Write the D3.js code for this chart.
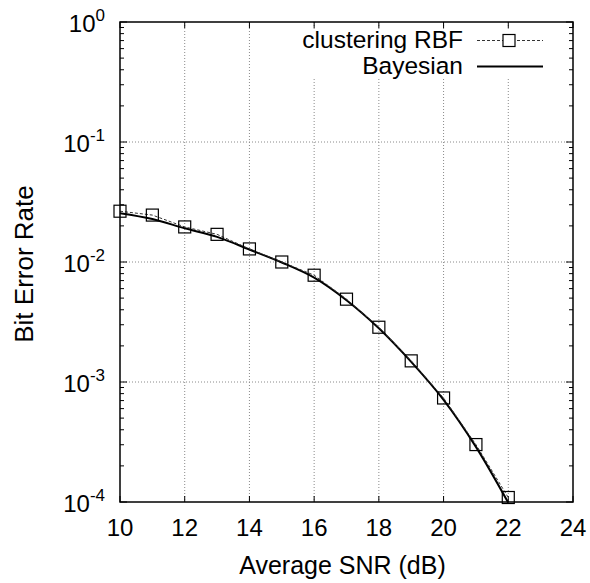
<!DOCTYPE html>
<html>
<head>
<meta charset="utf-8">
<script src="https://cdn.jsdelivr.net/npm/d3@7"></script>
<style>
  html, body { margin: 0; padding: 0; background: #fff; }
  svg text { font-family: "Liberation Sans", Arial, Helvetica, sans-serif; fill: #000; }
</style>
</head>
<body>
<svg id="chart" width="590" height="583"></svg>
<script>
// SNR values (dB)
const snr = [10, 11, 12, 13, 14, 15, 16, 17, 18, 19, 20, 21, 22];
// Bit error rate of the clustering RBF detector
const berRBF = [0.0265, 0.0246, 0.0196, 0.0170, 0.01285, 0.0100, 0.00776, 0.0049, 0.00286, 0.0015, 0.000736, 0.000301, 0.000109];
// Bit error rate of the optimal Bayesian detector
const berBayes = [0.0255, 0.0228, 0.0191, 0.0162, 0.0127, 0.0099, 0.0074, 0.0048, 0.0028, 0.00147, 0.00071, 0.000288, 0.0000985];
// Tick labels
const xTicks = [10, 12, 14, 16, 18, 20, 22, 24];
const yExponents = [0, -1, -2, -3, -4];
const legendLabels = ["clustering RBF", "Bayesian"];

const svg = d3.select("#chart");
const pLeft = 120, pRight = 573, pTop = 22, pBottom = 502;

const x = d3.scaleLinear().domain([10, 24]).range([pLeft, pRight]);
const y = d3.scaleLog().domain([1e-4, 1]).range([pBottom, pTop]);

// grid
const grid = svg.append("g").attr("stroke", "#8a8a8a").attr("stroke-width", 1)
  .attr("stroke-dasharray", "1,2").attr("fill", "none");
xTicks.filter(v => v > 10 && v < 24).forEach(v => {
  grid.append("line").attr("x1", x(v)).attr("x2", x(v)).attr("y1", pTop).attr("y2", pBottom);
});
yExponents.filter(e => e < 0 && e > -4).forEach(e => {
  grid.append("line").attr("x1", pLeft).attr("x2", pRight).attr("y1", y(Math.pow(10, e))).attr("y2", y(Math.pow(10, e)));
});

// ticks along the frame
const ticks = svg.append("g").attr("stroke", "#000").attr("stroke-width", 1);
xTicks.forEach(v => {
  ticks.append("line").attr("x1", x(v)).attr("x2", x(v)).attr("y1", pBottom).attr("y2", pBottom - 6);
  ticks.append("line").attr("x1", x(v)).attr("x2", x(v)).attr("y1", pTop).attr("y2", pTop + 6);
});
for (let e = -4; e <= 0; e++) {
  const base = Math.pow(10, e);
  ticks.append("line").attr("x1", pLeft).attr("x2", pLeft + 7).attr("y1", y(base)).attr("y2", y(base));
  ticks.append("line").attr("x1", pRight).attr("x2", pRight - 7).attr("y1", y(base)).attr("y2", y(base));
  if (e < 0) {
    for (let m = 2; m <= 9; m++) {
      const v = m * base;
      ticks.append("line").attr("x1", pLeft).attr("x2", pLeft + 4).attr("y1", y(v)).attr("y2", y(v));
      ticks.append("line").attr("x1", pRight).attr("x2", pRight - 4).attr("y1", y(v)).attr("y2", y(v));
    }
  }
}

// legend background
svg.append("rect").attr("x", 292).attr("y", pTop + 7).attr("width", pRight - 297).attr("height", 49).attr("fill", "#fff");

// Bayesian curve
const lineGen = d3.line().x(d => x(d[0])).y(d => y(d[1])).curve(d3.curveCatmullRom);
svg.append("path")
  .datum(snr.map((s, i) => [s, berBayes[i]]))
  .attr("d", lineGen).attr("fill", "none").attr("stroke", "#000").attr("stroke-width", 2);

// clustering RBF curve
const rbf = snr.map((s, i) => [s, berRBF[i]]);
svg.append("path")
  .datum(rbf)
  .attr("d", d3.line().x(d => x(d[0])).y(d => y(d[1])))
  .attr("fill", "none").attr("stroke", "#333").attr("stroke-width", 1).attr("stroke-dasharray", "3,2");
svg.append("g").selectAll("rect").data(rbf).join("rect")
  .attr("x", d => x(d[0]) - 6).attr("y", d => y(d[1]) - 6)
  .attr("width", 12).attr("height", 12)
  .attr("fill", "none").attr("stroke", "#000").attr("stroke-width", 1.2);

// frame
svg.append("rect").attr("x", pLeft).attr("y", pTop).attr("width", pRight - pLeft).attr("height", pBottom - pTop)
  .attr("fill", "none").attr("stroke", "#000").attr("stroke-width", 1.5);

// x tick labels
svg.append("g").selectAll("text").data(xTicks).join("text")
  .attr("x", d => x(d)).attr("y", pBottom + 34)
  .attr("text-anchor", "middle").attr("font-size", 24).text(d => d);

// y tick labels (powers of ten)
const yl = svg.append("g").selectAll("text").data(yExponents).join("text")
  .attr("x", 105).attr("y", d => y(Math.pow(10, d)) + 10)
  .attr("text-anchor", "end").attr("font-size", 24);
yl.append("tspan").text("10");
yl.append("tspan").attr("dy", -11).attr("font-size", 17).text(d => d);

// axis titles
svg.append("text").attr("x", (pLeft + pRight) / 2 - 4).attr("y", 574)
  .attr("text-anchor", "middle").attr("font-size", 25).text("Average SNR (dB)");
svg.append("text").attr("transform", "translate(33," + 264 + ") rotate(-90)")
  .attr("text-anchor", "middle").attr("font-size", 26).text("Bit Error Rate");

// legend
const lg = svg.append("g");
legendLabels.forEach((label, i) => {
  const ly = 40.5 + i * 26;
  lg.append("text").attr("x", 463).attr("y", ly + 7.5).attr("text-anchor", "end").attr("font-size", 24.5).text(label);
  const ln = lg.append("line").attr("x1", 477).attr("x2", 543).attr("y1", ly).attr("y2", ly).attr("stroke", "#000");
  if (i === 0) {
    ln.attr("stroke-width", 1).attr("stroke-dasharray", "3,2").attr("stroke", "#333");
    lg.append("rect").attr("x", 503).attr("y", ly - 6).attr("width", 12).attr("height", 12)
      .attr("fill", "#fff").attr("stroke", "#000").attr("stroke-width", 1.2);
  } else {
    ln.attr("stroke-width", 2);
  }
});
</script>
</body>
</html>
